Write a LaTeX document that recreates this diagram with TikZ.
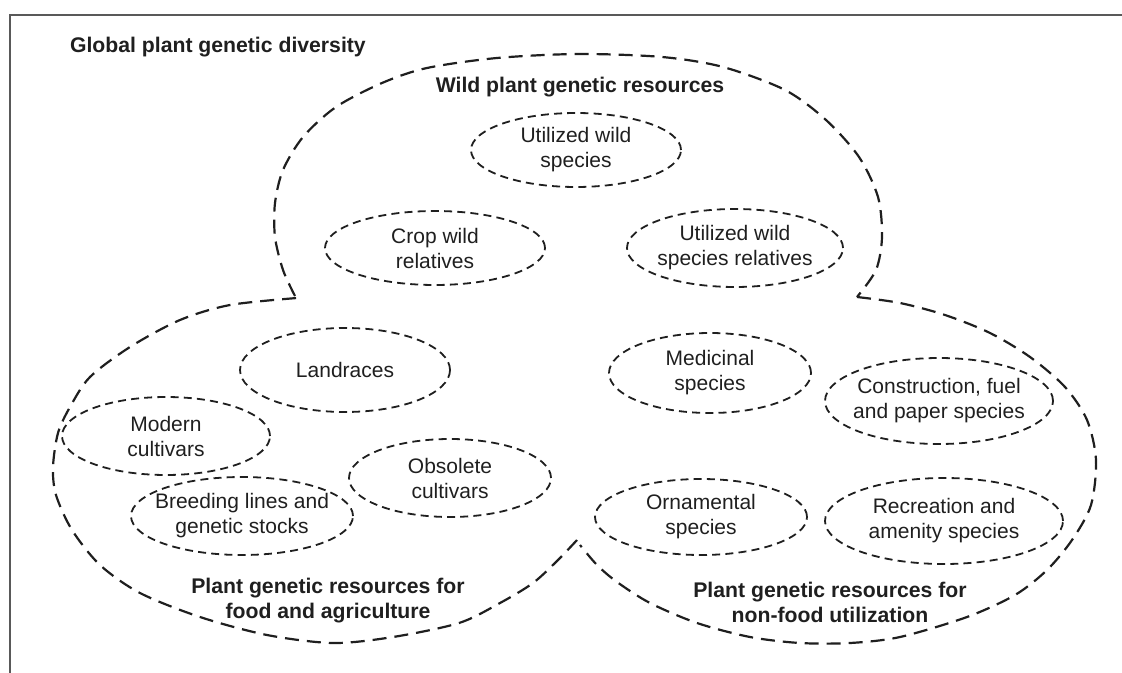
\documentclass[tikz,border=0pt]{standalone}
\usepackage{fontspec}
\setmainfont{Liberation Sans}
\usetikzlibrary{shapes.geometric}
\colorlet{ink}{black!88}
\colorlet{frameLine}{black!65}

\begin{document}
\begin{tikzpicture}[
  x=0.5pt, y=-0.5pt,
  font=\fontsize{10.5}{12.5}\selectfont,
  every node/.style={text=ink},
  frame/.style={
    draw=frameLine,
    line width=1pt,
  },
  lobe/.style={
    draw=ink,
    line width=1.1pt,
    dash pattern=on 7pt off 4pt,
  },
  pool/.style={
    ellipse,
    draw=ink,
    line width=0.9pt,
    dash pattern=on 4pt off 2.6pt,
    inner sep=0pt,
  },
  pool text/.style={
    align=center,
  },
  heading/.style={
    font=\fontsize{10.6}{12.5}\selectfont\bfseries,
    align=center,
  }
]
\useasboundingbox (0,0) rectangle (1122,673);
\draw[frame] (10,673) -- (10,15) -- (1122,15);

\draw[lobe] plot[smooth] coordinates {(295,296) (283,270) (275,237) (275,203)
  (283,170) (303,137) (336,107) (382,83) (427,68) (497,58) (579,54) (662,57)
  (723,67) (785,90) (826,120) (859,157) (878,197) (882,237) (876,270) (857,297)};
\draw[lobe] plot[smooth] coordinates {(857,297) (900,303) (945,315) (990,333)
  (1030,357) (1065,387) (1087,420) (1096,460) (1091,505) (1072,540) (1047,570)
  (1015,595) (967,617) (900,637) (850,643) (800,643) (750,637) (697,623)
  (650,603) (617,582) (597,565) (580,545)};
\draw[lobe] plot[smooth] coordinates {(577,540) (558,560) (533,583) (500,603)
  (459,623) (393,637) (333,643) (267,635) (200,617) (140,593) (100,565)
  (72,530) (56,495) (53,467) (58,433) (70,407) (90,377) (130,347) (180,320)
  (230,305) (297,298)};

\node[heading, anchor=base west] (global) at (63,53) {Global plant genetic diversity};
\node[heading] (wild) at (580,87) {Wild plant genetic resources};
\node[heading] (food) at (328,601) {Plant genetic resources for\\food and agriculture};
\node[heading] (nonfood) at (830,602) {Plant genetic resources for\\non-food utilization};

\node[pool, minimum width=105pt, minimum height=37pt] (usedWild) at (576,150) {};
\node[pool text] (usedWild text) at (usedWild) {Utilized wild\\species};
\node[pool, minimum width=110pt, minimum height=37pt] (cropWild) at (435,248) {};
\node[pool text] (cropWild text) at (cropWild) {Crop wild\\relatives};
\node[pool, minimum width=108pt, minimum height=39pt] (wildRel) at (735,248) {};
\node[pool text] (wildRel text) at (wildRel) {Utilized wild\\species relatives};

\node[pool, minimum width=105pt, minimum height=42pt] (landraces) at (345,370) {};
\node[pool text] (landraces text) at (landraces) {Landraces};
\node[pool, minimum width=104pt, minimum height=39pt] (modern) at (166,436) {};
\node[pool text] (modern text) at (modern) {Modern\\cultivars};
\node[pool, minimum width=101pt, minimum height=39pt] (obsolete) at (450,478) {};
\node[pool text] (obsolete text) at (obsolete) {Obsolete\\cultivars};
\node[pool, minimum width=111pt, minimum height=39pt] (breeding) at (242,516) {};
\node[pool text] (breeding text) at (breeding) {Breeding lines and\\genetic stocks};

\node[pool, minimum width=101pt, minimum height=40pt] (medicinal) at (710,373) {};
\node[pool text] (medicinal text) at (medicinal) {Medicinal\\species};
\node[pool, minimum width=114pt, minimum height=43pt] (construction) at (939,401) {};
\node[pool text] (construction text) at (construction) {Construction, fuel\\and paper species};
\node[pool, minimum width=106pt, minimum height=38pt] (ornamental) at (701,517) {};
\node[pool text] (ornamental text) at (ornamental) {Ornamental\\species};
\node[pool, minimum width=119pt, minimum height=43pt] (recreation) at (944,521) {};
\node[pool text] (recreation text) at (recreation) {Recreation and\\amenity species};
\end{tikzpicture}
\end{document}
